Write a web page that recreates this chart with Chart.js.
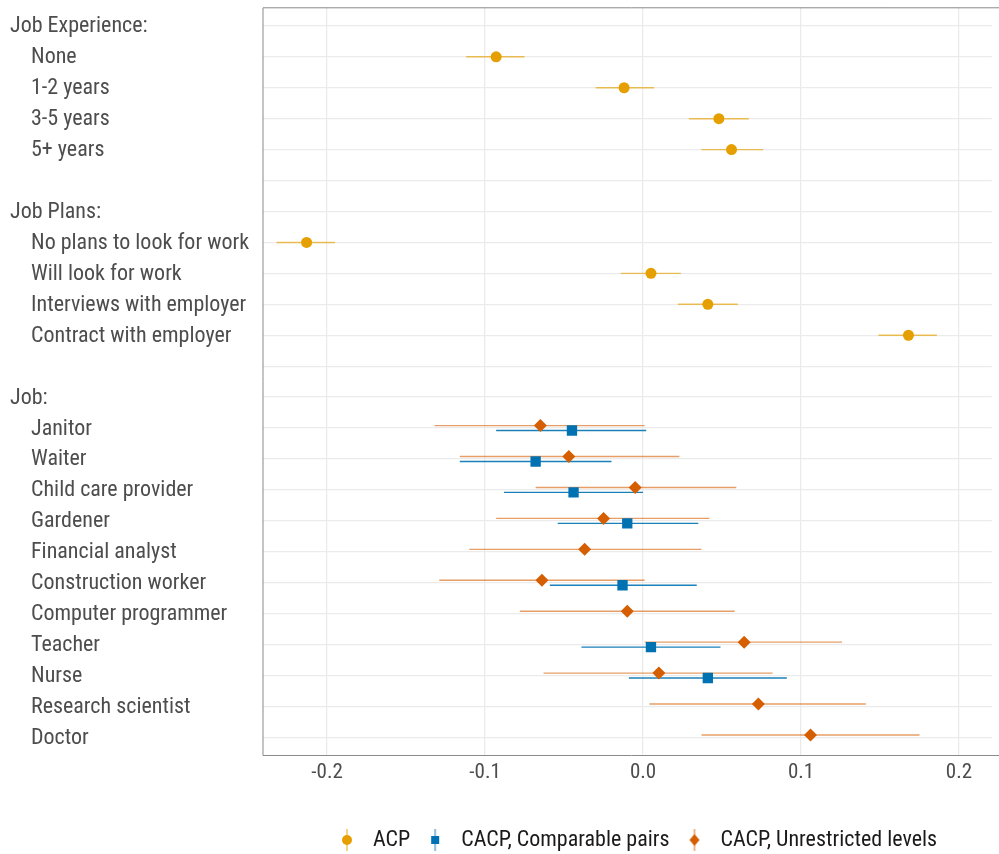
<!DOCTYPE html>
<html>
<head>
<meta charset="utf-8">
<script src="https://cdn.jsdelivr.net/npm/chart.js@4.4.1/dist/chart.umd.min.js"></script>
<style>
  html, body { margin: 0; padding: 0; background: #fff; }
  #wrap { width: 999px; height: 854px; position: relative; }
</style>
</head>
<body>
<div id="wrap"><canvas id="chart" width="999" height="854"></canvas></div>
<script>
// rows of the y axis, top to bottom; headers have no indent
const rowLabels = [
  'Job Experience:', 'None', '1-2 years', '3-5 years', '5+ years', '',
  'Job Plans:', 'No plans to look for work', 'Will look for work', 'Interviews with employer', 'Contract with employer', '',
  'Job:', 'Janitor', 'Waiter', 'Child care provider', 'Gardener', 'Financial analyst', 'Construction worker',
  'Computer programmer', 'Teacher', 'Nurse', 'Research scientist', 'Doctor'
];
const headerRows = ['Job Experience:', 'Job Plans:', 'Job:'];

// ACP estimates with lower / upper bounds
const acpRows = ['None', '1-2 years', '3-5 years', '5+ years', 'No plans to look for work', 'Will look for work', 'Interviews with employer', 'Contract with employer'];
const acpEst = [-0.093, -0.012, 0.048, 0.056, -0.213, 0.005, 0.041, 0.168];
const acpLo  = [-0.112, -0.030, 0.029, 0.037, -0.232, -0.014, 0.022, 0.149];
const acpHi  = [-0.075, 0.007, 0.067, 0.076, -0.195, 0.024, 0.060, 0.186];

// CACP, comparable pairs
const cpRows = ['Janitor', 'Waiter', 'Child care provider', 'Gardener', 'Construction worker', 'Teacher', 'Nurse'];
const cpEst = [-0.045, -0.068, -0.044, -0.010, -0.013, 0.005, 0.041];
const cpLo  = [-0.093, -0.116, -0.088, -0.054, -0.059, -0.039, -0.009];
const cpHi  = [0.002, -0.020, 0.000, 0.035, 0.034, 0.049, 0.091];

// CACP, unrestricted levels
const ulRows = ['Janitor', 'Waiter', 'Child care provider', 'Gardener', 'Financial analyst', 'Construction worker',
  'Computer programmer', 'Teacher', 'Nurse', 'Research scientist', 'Doctor'];
const ulEst = [-0.065, -0.047, -0.005, -0.025, -0.037, -0.064, -0.010, 0.064, 0.010, 0.073, 0.106];
const ulLo  = [-0.132, -0.116, -0.068, -0.093, -0.110, -0.129, -0.078, 0.001, -0.063, 0.004, 0.037];
const ulHi  = [0.001, 0.023, 0.059, 0.042, 0.037, 0.001, 0.058, 0.126, 0.082, 0.141, 0.175];

const xTicks = [-0.2, -0.1, 0.0, 0.1, 0.2];
const seriesNames = ['ACP', 'CACP, Comparable pairs', 'CACP, Unrestricted levels'];

const FONT = "'Roboto Condensed', Roboto, sans-serif";

function toPoints(rows, est, lo, hi, shift) {
  return rows.map((r, i) => ({ x: est[i], y: rowLabels.indexOf(r) + shift, lo: lo[i], hi: hi[i] }));
}

// legend glyph: point with a short vertical bar through it
function glyph(color, shape) {
  const c = document.createElement('canvas');
  c.width = 18; c.height = 24;
  const g = c.getContext('2d');
  g.strokeStyle = color; g.globalAlpha = 0.6; g.lineWidth = 1.5;
  g.beginPath(); g.moveTo(9, 1); g.lineTo(9, 23); g.stroke();
  g.globalAlpha = 1; g.fillStyle = color;
  g.beginPath();
  if (shape === 'circle') g.arc(9, 12, 5, 0, Math.PI * 2);
  else if (shape === 'rect') g.rect(5, 8, 8, 8);
  else { g.moveTo(9, 6); g.lineTo(14, 12); g.lineTo(9, 18); g.lineTo(4, 12); g.closePath(); }
  g.fill();
  return c;
}

const errorBars = {
  id: 'errorBars',
  beforeDatasetsDraw(chart) {
    const ctx = chart.ctx, xs = chart.scales.x, ys = chart.scales.y;
    ctx.save();
    chart.data.datasets.forEach(ds => {
      ctx.strokeStyle = ds.barColor;
      ctx.lineWidth = 1.4;
      ds.data.forEach(p => {
        const y = ys.getPixelForValue(p.y);
        ctx.beginPath();
        ctx.moveTo(xs.getPixelForValue(p.lo), y);
        ctx.lineTo(xs.getPixelForValue(p.hi), y);
        ctx.stroke();
      });
    });
    ctx.restore();
  }
};

const frameAndLabels = {
  id: 'frameAndLabels',
  afterLayout(chart) {
    // centre the legend under the (cut off) panel rather than the canvas
    chart.legend.left += 135;
    chart.legend.right += 135;
  },
  afterDraw(chart) {
    const ctx = chart.ctx, a = chart.chartArea, ys = chart.scales.y;
    ctx.save();
    ctx.strokeStyle = '#8a8a8a';
    ctx.lineWidth = 1;
    ctx.beginPath();
    ctx.moveTo(chart.width + 2, a.top + 0.5);
    ctx.lineTo(a.left + 0.5, a.top + 0.5);
    ctx.lineTo(a.left + 0.5, a.bottom - 0.5);
    ctx.lineTo(chart.width + 2, a.bottom - 0.5);
    ctx.stroke();
    ctx.fillStyle = '#4d4d4d';
    ctx.font = '22px ' + FONT;
    ctx.textBaseline = 'middle';
    ctx.textAlign = 'left';
    rowLabels.forEach((lab, i) => {
      if (!lab) return;
      const x = headerRows.includes(lab) ? 10 : 31;
      ctx.fillText(lab, x, ys.getPixelForValue(i) + 1);
    });
    ctx.restore();
  }
};

new Chart(document.getElementById('chart'), {
  type: 'scatter',
  data: {
    datasets: [
      { label: seriesNames[0], data: toPoints(acpRows, acpEst, acpLo, acpHi, 0),
        backgroundColor: '#E69F00', borderColor: '#E69F00', barColor: 'rgba(230,159,0,0.65)',
        pointStyle: 'circle', pointRadius: 5.5, borderWidth: 0, legendGlyph: glyph('#E69F00', 'circle') },
      { label: seriesNames[1], data: toPoints(cpRows, cpEst, cpLo, cpHi, 0.08),
        backgroundColor: '#0072B2', borderColor: '#0072B2', barColor: 'rgba(0,114,178,0.9)',
        pointStyle: 'rect', pointRadius: 7.3, borderWidth: 0, legendGlyph: glyph('#0072B2', 'rect') },
      { label: seriesNames[2], data: toPoints(ulRows, ulEst, ulLo, ulHi, -0.08),
        backgroundColor: '#D55E00', borderColor: '#D55E00', barColor: 'rgba(213,94,0,0.6)',
        pointStyle: 'rectRot', pointRadius: 6.5, borderWidth: 0, legendGlyph: glyph('#D55E00', 'diamond') }
    ]
  },
  options: {
    responsive: false,
    animation: false,
    events: [],
    layout: { padding: { top: 6, right: 0, bottom: -7, left: 0 } },
    scales: {
      x: {
        type: 'linear', min: -0.2409, max: 0.2207,
        afterBuildTicks: s => { s.ticks = xTicks.map(v => ({ value: v })); },
        afterFit: s => { s.height = 63; },
        ticks: { callback: v => v.toFixed(1), color: '#4d4d4d', font: { family: FONT, size: 21 }, padding: 4 },
        grid: { color: '#ebebeb', lineWidth: 1.3, drawTicks: false },
        border: { display: false }
      },
      y: {
        type: 'linear', min: -0.6, max: rowLabels.length - 1 + 0.6, reverse: true,
        afterBuildTicks: s => { s.ticks = rowLabels.map((_, i) => ({ value: i })); },
        afterFit: s => { s.width = 262.5; },
        ticks: { display: false },
        grid: { color: '#ebebeb', lineWidth: 1.3, drawTicks: false },
        border: { display: false }
      }
    },
    plugins: {
      legend: {
        position: 'bottom',
        labels: {
          color: '#1a1a1a', font: { family: FONT, size: 22 }, usePointStyle: true, pointStyleWidth: 30, padding: 10,
          generateLabels: chart => chart.data.datasets.map((ds, i) => ({
            text: ds.label, pointStyle: ds.legendGlyph, datasetIndex: i, fontColor: '#1a1a1a',
            lineWidth: 0, strokeStyle: 'transparent', fillStyle: ds.backgroundColor
          }))
        }
      },
      tooltip: { enabled: false }
    }
  },
  plugins: [errorBars, frameAndLabels]
});
</script>
</body>
</html>
